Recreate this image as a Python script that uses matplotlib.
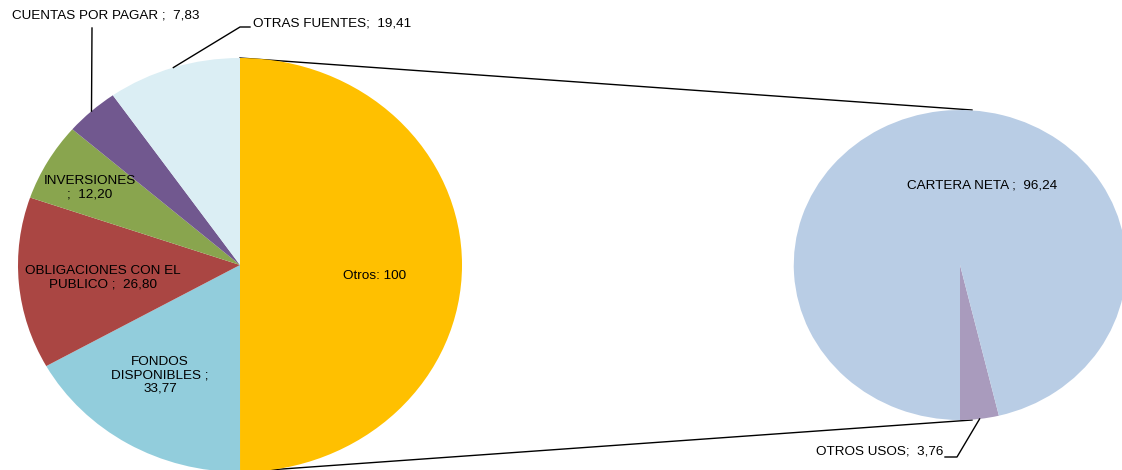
import numpy as np
import matplotlib
matplotlib.use("Agg")
import matplotlib.pyplot as plt

plt.rcParams["font.family"] = ["Liberation Sans", "DejaVu Sans"]

# main pie: "Otros" is the group broken out into the second pie
fuentes = ["Otros", "FONDOS DISPONIBLES", "OBLIGACIONES CON EL PUBLICO",
           "INVERSIONES", "CUENTAS POR PAGAR", "OTRAS FUENTES"]
fuentes_val = [100, 33.77, 26.80, 12.20, 7.83, 19.41]
fuentes_col = ["#FFC000", "#92CDDC", "#AA4643", "#89A54E", "#71588F", "#DBEEF4"]

usos = ["OTROS USOS", "CARTERA NETA"]
usos_val = [3.76, 96.24]
usos_col = ["#A99BBD", "#B9CDE5"]

W, H = 1122, 470
SX = 1.0725          # horizontal stretch of both pies


def P(xp, yp):
    """pixel position (origin top-left) -> data coords"""
    return xp / SX, H - yp


def edge(center, r, ang):
    a = np.deg2rad(ang)
    return center[0] + r * np.cos(a), center[1] + r * np.sin(a)


def num(v):
    return f"{v:.2f}".replace(".", ",")


fig = plt.figure(figsize=(W / 100, H / 100), dpi=100)
ax = fig.add_axes([0, 0, 1, 1])

c1, r1 = P(240, 265), 207
c2, r2 = P(960, 265), 155

# connector lines between the split and the second pie (behind the wedges)
for side in (1, -1):
    x0, y0 = c1[0], c1[1] + side * r1
    x1, y1 = c2[0] + 12 / SX, c2[1] + side * r2
    ax.plot([x0, x1], [y0, y1], color="black", lw=1.0, zorder=1)

w1, _ = ax.pie(fuentes_val, colors=fuentes_col, startangle=90, counterclock=False,
               center=c1, radius=r1, frame=True, wedgeprops=dict(linewidth=0))
w2, _ = ax.pie(usos_val, colors=usos_col, startangle=270, counterclock=True,
               center=c2, radius=r2, frame=True, wedgeprops=dict(linewidth=0))
for w in list(w1) + list(w2):
    w.set_zorder(2)

ax.set_aspect("auto")
ax.set_xlim(0, W / SX)
ax.set_ylim(0, H)
ax.axis("off")

fs = 9.7
txt = dict(fontsize=fs, color="black", zorder=5)


def mid(w):
    return 0.5 * (w.theta1 + w.theta2)


# labels inside the wedges
ax.text(*P(375, 276), f"Otros: {fuentes_val[0]:g}", ha="center", va="center", **txt)
ax.text(*P(160, 375), "FONDOS\nDISPONIBLES ;\n" + num(fuentes_val[1]),
        ha="center", va="center", linespacing=1.15, **txt)
ax.text(*P(103, 278), "OBLIGACIONES CON EL\nPUBLICO ;  " + num(fuentes_val[2]),
        ha="center", va="center", linespacing=1.15, **txt)
ax.text(*P(90, 188), "INVERSIONES\n;  " + num(fuentes_val[3]),
        ha="center", va="center", linespacing=1.15, **txt)
ax.text(*P(982, 186), "CARTERA NETA ;  " + num(usos_val[1]),
        ha="center", va="center", **txt)

# outside labels with leader lines
ex, ey = edge(c1, r1, mid(w1[4]))
ax.plot([ex, P(92, 28)[0]], [ey, P(92, 28)[1]], color="black", lw=1.0, zorder=4)
ax.text(*P(12, 15), "CUENTAS POR PAGAR ;  " + num(fuentes_val[4]),
        ha="left", va="center", **txt)

ex, ey = edge(c1, r1, mid(w1[5]))
ax.plot([ex, P(240, 27)[0], P(250, 27)[0]], [ey, P(240, 27)[1], P(250, 27)[1]],
        color="black", lw=1.0, zorder=4)
ax.text(*P(253, 23), "OTRAS FUENTES;  " + num(fuentes_val[5]),
        ha="left", va="center", **txt)

ex, ey = edge(c2, r2, mid(w2[0]))
ax.plot([ex, P(957, 457)[0], P(945, 457)[0]], [ey, P(957, 457)[1], P(945, 457)[1]],
        color="black", lw=1.0, zorder=4)
ax.text(*P(943, 452), "OTROS USOS;  " + num(usos_val[0]),
        ha="right", va="center", **txt)

fig.savefig("out.png", dpi=100)
